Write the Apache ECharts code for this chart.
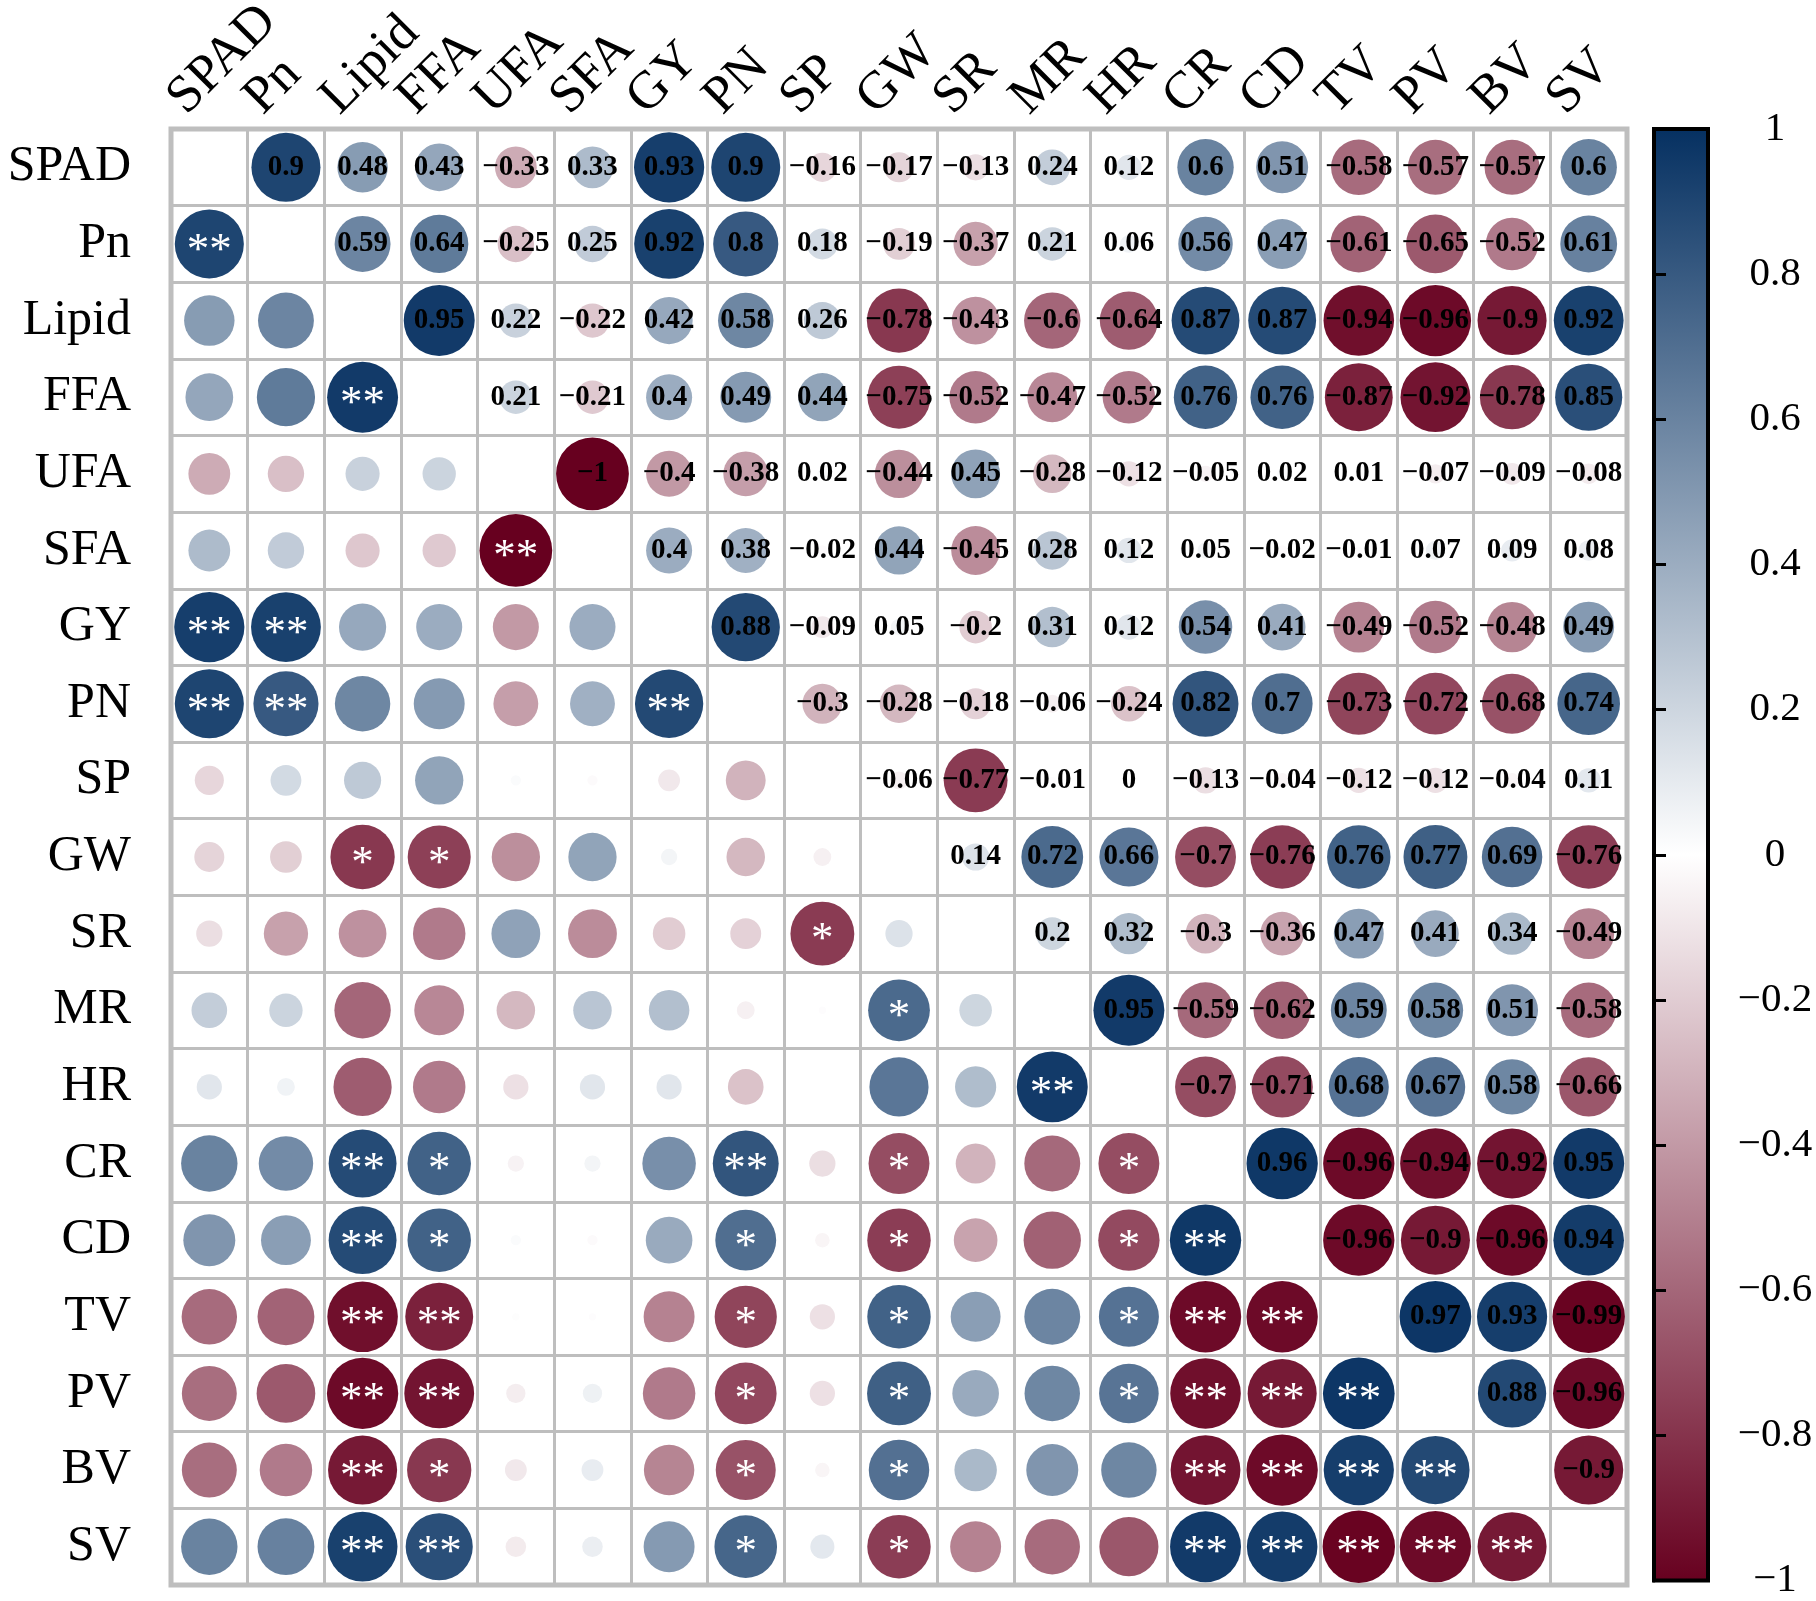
<!DOCTYPE html>
<html>
<head>
<meta charset="utf-8">
<script src="https://cdn.jsdelivr.net/npm/echarts@6/dist/echarts.min.js"></script>
<style>
  html, body { margin: 0; background: #fff; }
  #chart { width: 1816px; height: 1601px; }
</style>
</head>
<body>
<div id="chart"></div>
<script>
// variables, same order on rows and columns
const vars = ['SPAD', 'Pn', 'Lipid', 'FFA', 'UFA', 'SFA', 'GY', 'PN', 'SP', 'GW', 'SR', 'MR', 'HR', 'CR', 'CD', 'TV', 'PV', 'BV', 'SV']

// upper triangle: row i holds r for columns i+1 .. 18
const upper = [
    [0.9, 0.48, 0.43, -0.33, 0.33, 0.93, 0.9, -0.16, -0.17, -0.13, 0.24, 0.12, 0.6, 0.51, -0.58, -0.57, -0.57, 0.6],
    [0.59, 0.64, -0.25, 0.25, 0.92, 0.8, 0.18, -0.19, -0.37, 0.21, 0.06, 0.56, 0.47, -0.61, -0.65, -0.52, 0.61],
    [0.95, 0.22, -0.22, 0.42, 0.58, 0.26, -0.78, -0.43, -0.6, -0.64, 0.87, 0.87, -0.94, -0.96, -0.9, 0.92],
    [0.21, -0.21, 0.4, 0.49, 0.44, -0.75, -0.52, -0.47, -0.52, 0.76, 0.76, -0.87, -0.92, -0.78, 0.85],
    [-1, -0.4, -0.38, 0.02, -0.44, 0.45, -0.28, -0.12, -0.05, 0.02, 0.01, -0.07, -0.09, -0.08],
    [0.4, 0.38, -0.02, 0.44, -0.45, 0.28, 0.12, 0.05, -0.02, -0.01, 0.07, 0.09, 0.08],
    [0.88, -0.09, 0.05, -0.2, 0.31, 0.12, 0.54, 0.41, -0.49, -0.52, -0.48, 0.49],
    [-0.3, -0.28, -0.18, -0.06, -0.24, 0.82, 0.7, -0.73, -0.72, -0.68, 0.74],
    [-0.06, -0.77, -0.01, 0, -0.13, -0.04, -0.12, -0.12, -0.04, 0.11],
    [0.14, 0.72, 0.66, -0.7, -0.76, 0.76, 0.77, 0.69, -0.76],
    [0.2, 0.32, -0.3, -0.36, 0.47, 0.41, 0.34, -0.49],
    [0.95, -0.59, -0.62, 0.59, 0.58, 0.51, -0.58],
    [-0.7, -0.71, 0.68, 0.67, 0.58, -0.66],
    [0.96, -0.96, -0.94, -0.92, 0.95],
    [-0.96, -0.9, -0.96, 0.94],
    [0.97, 0.93, -0.99],
    [0.88, -0.96],
    [-0.9]
]

// lower triangle significance: row i (from Pn) lists columns 0 .. i-1, 1 = *, 2 = **
const stars = [
    '2',
    '00',
    '002',
    '0000',
    '00002',
    '220000',
    '2200002',
    '00000000',
    '001100000',
    '0000000010',
    '00000000010',
    '000000000002',
    '0021000201001',
    '00210001010012',
    '002200010100122',
    '0022000101001222',
    '00210001010002222',
    '002200010100022222'
]

// colour bar ticks
const barTicks = [-1, -0.8, -0.6, -0.4, -0.2, 0, 0.2, 0.4, 0.6, 0.8, 1]

const serif = '"Liberation Serif", "Times New Roman", serif'
const gridLine = '#BEBEBE'
const palette = ['#67001F', '#FFFFFF', '#053061']

// build cells: [col, row, r, stars, upper?]
const cells = []
upper.forEach((row, i) => {
    row.forEach((r, k) => {
        const j = i + 1 + k
        cells.push([j, i, r, 0, 1])
        cells.push([i, j, r, +stars[j - 1][i], 0])
    })
})

const fmt = v => String(+(+v).toFixed(2)).replace('-', '\u2212')

const renderCell = (params, api) => {
    const p = api.coord([api.value(0), api.value(1)])
    const cell = api.size([1, 1])
    const r = api.value(2)
    const rad = cell[0] * 0.475 * Math.sqrt(Math.abs(r))
    const children = [{
        type: 'circle',
        shape: { cx: p[0], cy: p[1], r: rad },
        style: { fill: api.visual('color') }
    }]
    if (api.value(4) === 1) {
        children.push({
            type: 'text',
            x: p[0],
            y: p[1],
            style: {
                text: fmt(r),
                fill: '#000',
                fontFamily: serif,
                fontWeight: 'bold',
                fontSize: 29,
                align: 'center',
                verticalAlign: 'middle'
            }
        })
    } else if (api.value(3) > 0) {
        children.push({
            type: 'text',
            x: p[0],
            y: p[1] + 7,
            style: {
                text: api.value(3) === 2 ? '**' : '*',
                fill: '#fff',
                fontFamily: serif,
                fontSize: 45,
                align: 'center',
                verticalAlign: 'middle'
            }
        })
    }
    return { type: 'group', children }
}

// column names written at 45 degrees above the matrix
const renderColLabel = (params, api) => {
    const x = api.coord([api.value(0), 0])[0]
    return {
        type: 'text',
        x: x - 33,
        y: params.coordSys.y - 23,
        rotation: Math.PI / 4,
        style: {
            text: vars[api.value(0)],
            fill: '#000',
            fontFamily: serif,
            fontSize: 53,
            align: 'left',
            verticalAlign: 'middle'
        }
    }
}

const chart = echarts.init(document.getElementById('chart'))
chart.setOption({
    animation: false,
    backgroundColor: '#fff',
    grid: [
        // matrix
        { left: 171, top: 129, width: 1456, height: 1456, show: true, backgroundColor: '#fff', borderColor: gridLine, borderWidth: 5 },
        // colour bar
        {
            left: 1654, top: 129, width: 54, height: 1456, show: true,
            borderColor: '#000', borderWidth: 4,
            backgroundColor: {
                type: 'linear', x: 0, y: 0, x2: 0, y2: 1,
                colorStops: [
                    { offset: 0, color: palette[2] },
                    { offset: 0.5, color: palette[1] },
                    { offset: 1, color: palette[0] }
                ]
            }
        }
    ],
    xAxis: [
        {
            type: 'category', gridIndex: 0, data: vars, position: 'top',
            axisLine: { show: false }, axisTick: { show: false }, axisLabel: { show: false },
            splitLine: { show: true, interval: 0, lineStyle: { color: gridLine, width: 3 } }
        },
        { type: 'value', gridIndex: 1, show: false }
    ],
    yAxis: [
        {
            type: 'category', gridIndex: 0, data: vars, inverse: true,
            axisLine: { show: false }, axisTick: { show: false },
            axisLabel: { interval: 0, margin: 40, color: '#000', fontFamily: serif, fontSize: 50, padding: [0, 0, 14, 0] },
            splitLine: { show: true, interval: 0, lineStyle: { color: gridLine, width: 3 } }
        },
        {
            type: 'value', gridIndex: 1, position: 'right',
            min: barTicks[0], max: barTicks[barTicks.length - 1], interval: 0.2,
            axisLine: { show: true, lineStyle: { color: '#000', width: 4 } },
            axisTick: { show: true, inside: false, length: 12, lineStyle: { color: '#000', width: 3 } },
            splitLine: { show: false },
            axisLabel: {
                margin: 67, align: 'center', color: '#000', fontFamily: serif, fontSize: 41,
                formatter: v => fmt(v)
            }
        }
    ],
    visualMap: {
        type: 'continuous', show: false, min: -1, max: 1, dimension: 2, seriesIndex: 0,
        inRange: { color: palette }
    },
    series: [
        {
            type: 'custom',
            xAxisIndex: 0,
            yAxisIndex: 0,
            clip: false,
            silent: true,
            encode: { x: 0, y: 1 },
            renderItem: renderCell,
            data: cells
        },
        {
            type: 'custom',
            xAxisIndex: 0,
            yAxisIndex: 0,
            clip: false,
            silent: true,
            encode: { x: 0 },
            renderItem: renderColLabel,
            data: vars.map((v, j) => [j])
        }
    ]
})
</script>
</body>
</html>
